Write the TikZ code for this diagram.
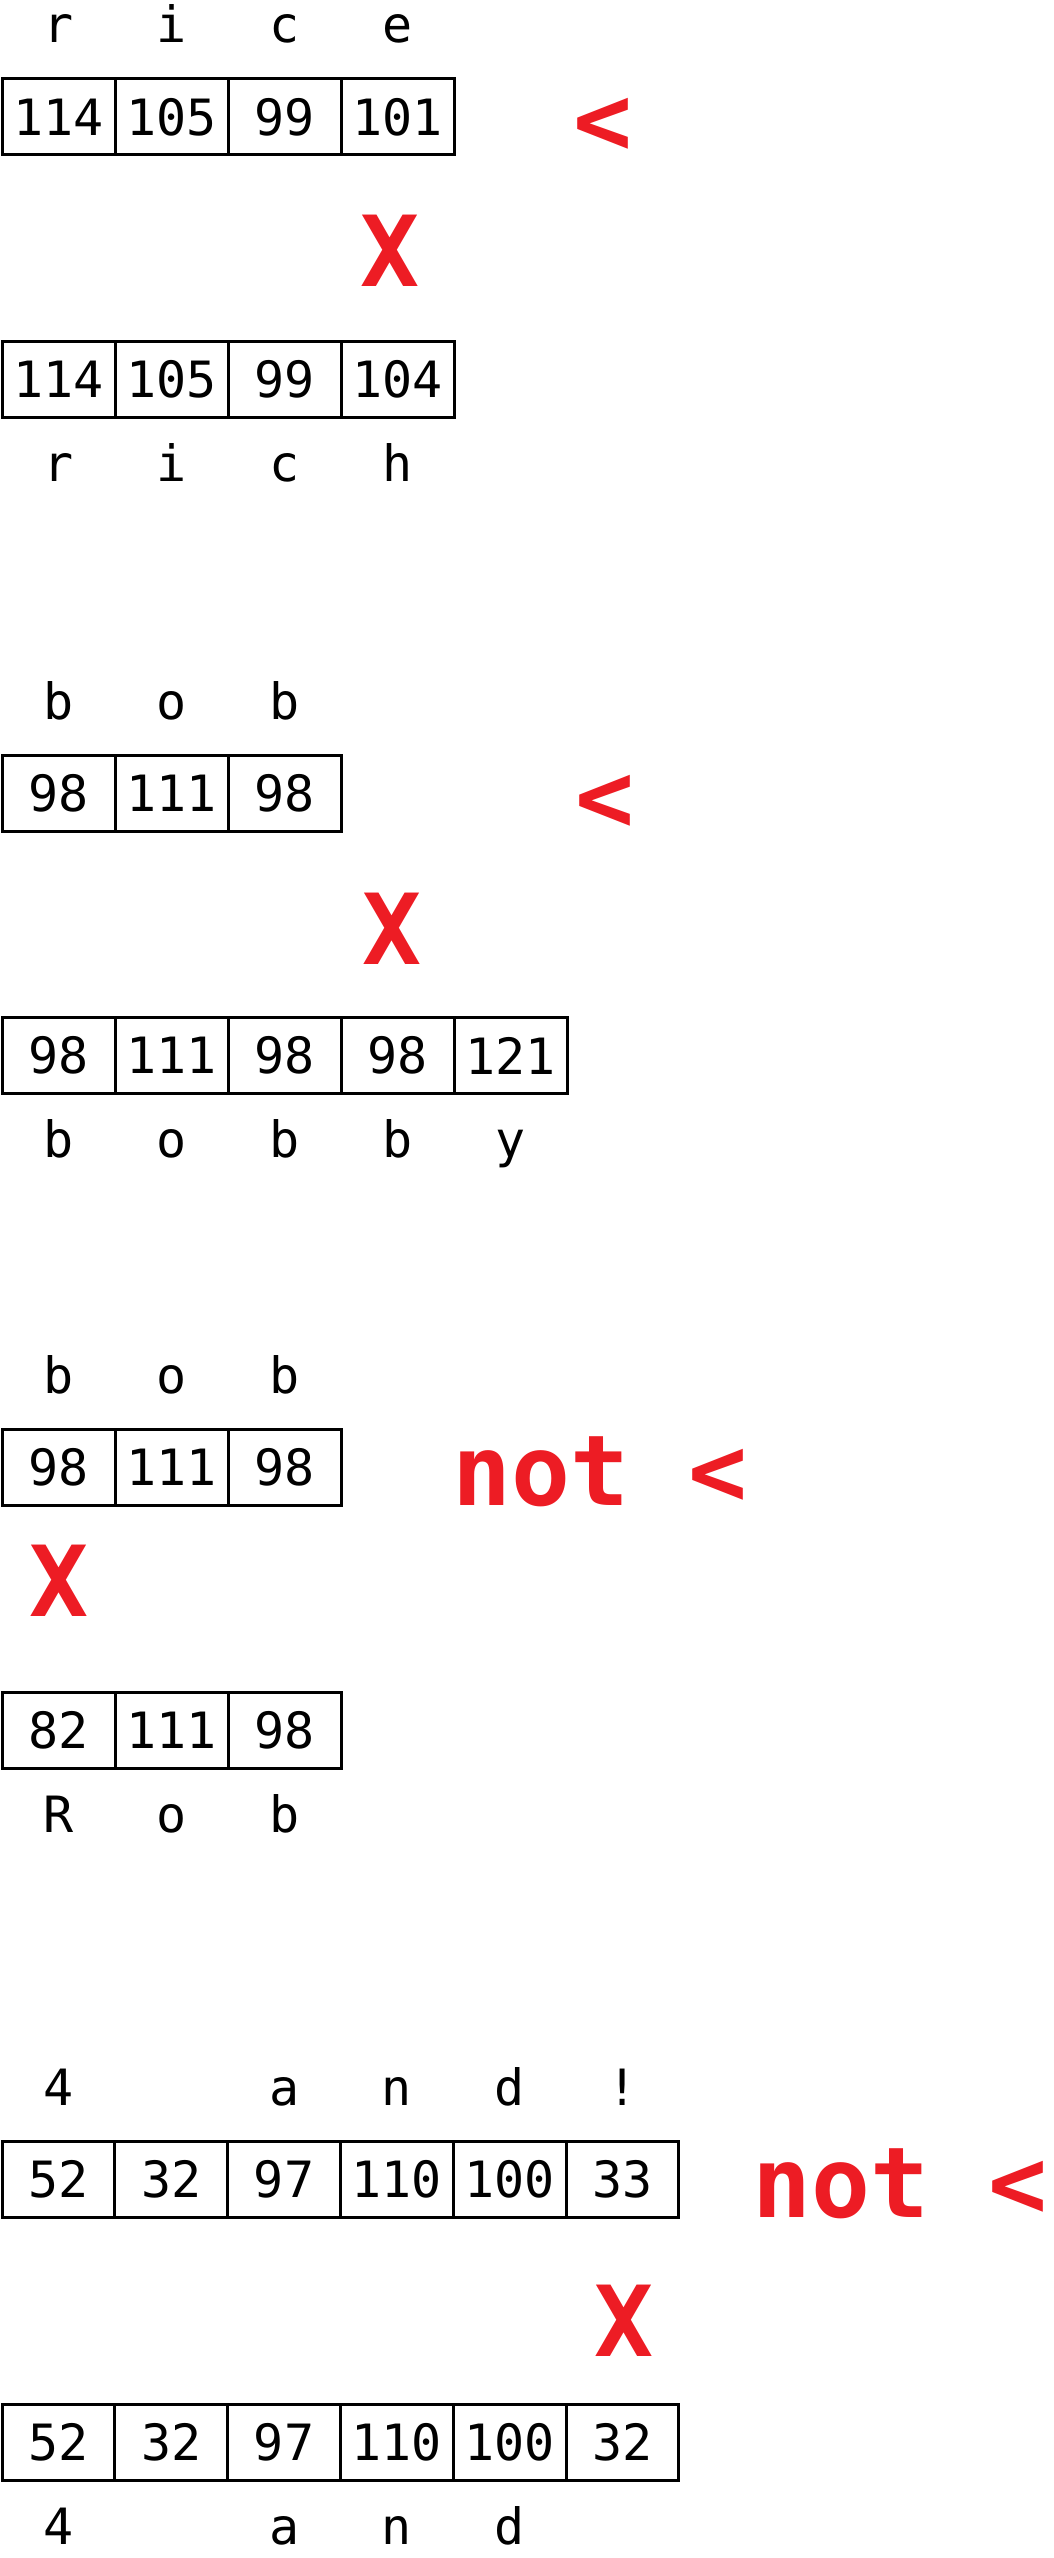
\documentclass[tikz,border=0pt]{standalone}
\usepackage{fontspec}
\newfontfamily\plex{DejaVu Sans Mono}
\definecolor{mred}{HTML}{ED1C24}
\begin{document}
\begin{tikzpicture}[x=1pt,y=-1pt,
  cell/.style={draw=black,line width=3pt,minimum width=113pt,minimum height=76pt,inner sep=0pt,outer sep=0pt,anchor=north west,font=\plex\fontsize{50}{60}\selectfont},
  lett/.style={inner sep=0pt,anchor=base,font=\plex\fontsize{50}{60}\selectfont},
  redmark/.style={inner sep=0pt,anchor=base,text=mred,font=\plex\bfseries\fontsize{98}{100}\selectfont}]
\useasboundingbox (0,0) rectangle (1053,2558);
% ---------- section 1: rice < rich
\foreach \l [count=\i from 0] in {r,i,c,e} \node[lett] (aU\i) at ({58.5+113*\i},43) {\l};
\foreach \v [count=\i from 0] in {114,105,99,101} \node[cell] (aA\i) at ({2+113*\i},79) {\v};
\node[redmark] (aLt) at (603,155) {<};
\node[redmark] (aX) at (390,286) {X};
\foreach \v [count=\i from 0] in {114,105,99,104} \node[cell] (aB\i) at ({2+113*\i},341.5) {\v};
\foreach \l [count=\i from 0] in {r,i,c,h} \node[lett] (aL\i) at ({58.5+113*\i},481.5) {\l};
% ---------- section 2: bob < bobby
\foreach \l [count=\i from 0] in {b,o,b} \node[lett] (bU\i) at ({58.5+113*\i},719) {\l};
\foreach \v [count=\i from 0] in {98,111,98} \node[cell] (bA\i) at ({2+113*\i},755) {\v};
\node[redmark] (bLt) at (605,831) {<};
\node[redmark] (bX) at (392,964) {X};
\foreach \v [count=\i from 0] in {98,111,98,98,121} \node[cell] (bB\i) at ({2+113*\i},1017.5) {\v};
\foreach \l [count=\i from 0] in {b,o,b,b,y} \node[lett] (bL\i) at ({58.5+113*\i},1157.5) {\l};
% ---------- section 3: bob not < Rob
\foreach \l [count=\i from 0] in {b,o,b} \node[lett] (cU\i) at ({58.5+113*\i},1393.5) {\l};
\foreach \v [count=\i from 0] in {98,111,98} \node[cell] (cA\i) at ({2+113*\i},1429.5) {\v};
\node[redmark] (cLt) at (600,1505.5) {not <};
\node[redmark] (cX) at (59,1616.7) {X};
\foreach \v [count=\i from 0] in {82,111,98} \node[cell] (cB\i) at ({2+113*\i},1692) {\v};
\foreach \l [count=\i from 0] in {R,o,b} \node[lett] (cL\i) at ({58.5+113*\i},1832) {\l};
% ---------- section 4: "4 and!" not < "4 and "
\foreach \l [count=\i from 0] in {4,{},a,n,d,!} \node[lett] (dU\i) at ({58.5+112.8*\i},2105) {\l};
\foreach \v [count=\i from 0] in {52,32,97,110,100,33} \node[cell,minimum width=112.8pt] (dA\i) at ({2+112.8*\i},2141) {\v};
\node[redmark] (dLt) at (900,2217) {not <};
\node[redmark] (dX) at (623.5,2356.7) {X};
\foreach \v [count=\i from 0] in {52,32,97,110,100,32} \node[cell,minimum width=112.8pt] (dB\i) at ({2+112.8*\i},2404) {\v};
\foreach \l [count=\i from 0] in {4,{},a,n,d} \node[lett] (dL\i) at ({58.5+112.8*\i},2544) {\l};
\end{tikzpicture}
\end{document}
